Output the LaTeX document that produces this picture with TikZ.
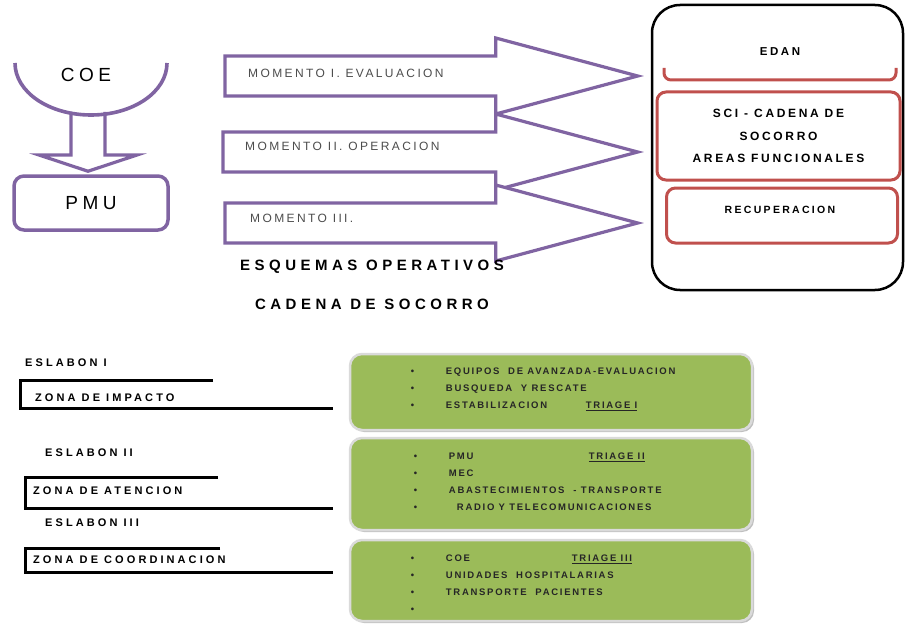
\documentclass[tikz,border=0pt]{standalone}
\usepackage{fontspec}
\setmainfont{Liberation Sans}
\newfontfamily\coefont[LetterSpace=24]{Liberation Sans}
\newfontfamily\momfont[LetterSpace=20]{Liberation Sans}
\newfontfamily\panelfont[LetterSpace=22]{Liberation Sans}
\newfontfamily\zonafont[LetterSpace=28]{Liberation Sans}
\newfontfamily\listfont[LetterSpace=18]{Liberation Sans}
\newfontfamily\titlefont[LetterSpace=30]{Liberation Sans}
\usepackage{tikz}
\usetikzlibrary{positioning,calc,shadows}
\definecolor{socpurple}{RGB}{128,100,162}
\definecolor{socred}{RGB}{192,80,77}
\definecolor{socgreen}{RGB}{155,187,89}
\definecolor{socgray}{RGB}{218,218,218}
\tikzset{
  purplebox/.style={
    rectangle, rounded corners=10pt, draw=socpurple, line width=3.5pt,
    fill=white, minimum width=154pt, minimum height=54pt, inner sep=0pt,
    font=\coefont\fontsize{19}{22}\selectfont
  },
  purpleline/.style={draw=socpurple, line width=3.2pt, fill=white, line join=miter},
  panelbox/.style={
    rectangle, rounded corners=28pt, draw=black, line width=2.5pt,
    minimum width=251pt, minimum height=285pt
  },
  redbox/.style={
    rectangle, rounded corners=9pt, draw=socred, line width=3pt,
    align=center, inner sep=0pt
  },
  greenbox/.style={
    rectangle, rounded corners=12pt, draw=socgray, line width=2.5pt,
    fill=socgreen, minimum width=402pt,
    drop shadow={shadow xshift=2pt, shadow yshift=-2pt, fill=black!50, opacity=.5}
  },
  zonaline/.style={draw=black, line width=3pt},
  coetext/.style={font=\coefont\fontsize{19}{22}\selectfont, inner sep=0pt},
  momlabel/.style={font=\momfont\fontsize{12}{13}\selectfont, text=black!70, anchor=west, inner sep=0pt},
  paneltext/.style={font=\panelfont\bfseries\fontsize{11.5}{22.5}\selectfont, align=center, inner sep=0pt},
  zonatext/.style={font=\zonafont\bfseries\fontsize{11}{12}\selectfont, anchor=west, inner sep=0pt},
  listtext/.style={font=\listfont\bfseries\fontsize{9.5}{17}\selectfont, text=black!85, align=left, anchor=west, inner sep=0pt},
  titletext/.style={font=\titlefont\bfseries\fontsize{15}{17}\selectfont, inner sep=0pt},
}
% hollow block arrow from a tail point to the tip column
\newcommand{\momarrow}[1]{%
  \coordinate (#1tip) at (#1 -| tipx);
  \draw[purpleline] ($(#1)+(0,-20)$) -- ($(#1tip)+(-142,-20)$) -- ($(#1tip)+(-142,-38)$)
    -- (#1tip) -- ($(#1tip)+(-142,38)$) -- ($(#1tip)+(-142,20)$) -- ($(#1)+(0,20)$) -- cycle;}

\begin{document}
\begin{tikzpicture}[x=1pt, y=-1pt]
  \useasboundingbox (0,0) rectangle (906,626);

  % COE bowl and PMU
  \node[coetext] (coe) at (86,75) {COE};
  \coordinate (coebottom) at ($(coe)+(5,40)$);
  \node[purplebox] (pmu) at (91,203) {PMU};
  \draw[purpleline] ($(coebottom)+(-20,-3)$) -- ($(coebottom)+(-20,40)$) -- ($(coebottom)+(-52,40)$)
    -- ($(pmu.north)+(-3,-3)$) -- ($(coebottom)+(46,40)$) -- ($(coebottom)+(14,40)$) -- ($(coebottom)+(14,-3)$);
  \draw[purpleline, fill=none, line width=3.6pt] (15,63) .. controls (15,92) and (49,115) .. (coebottom)
    .. controls (133,115) and (167,92) .. (167,63);

  % right panel
  \node[panelbox] (panel) at (777.5,147.5) {};
  \node[paneltext] (edan) at (780,52) {EDAN};
  \draw[socred, line width=3pt, rounded corners=7pt] (664,68) -- (664,80) -- (896,80) -- (896,68);
  \node[redbox, paneltext, font=\panelfont\bfseries\fontsize{12}{22.5}\selectfont,
    minimum width=243pt, minimum height=88pt] (sci) at (778.5,136)
    {SCI - CADENA DE\\SOCORRO\\AREAS FUNCIONALES};
  \node[redbox, minimum width=231pt, minimum height=55pt] (recup) at (782,215.5) {};
  \node[paneltext, font=\panelfont\bfseries\fontsize{10.5}{12}\selectfont] (recuptext)
    at ($(recup)+(-2,-6)$) {RECUPERACION};

  % momento arrows
  \coordinate (tipx) at ($(panel.west)+(-13,0)$);
  \coordinate (m1) at (225,76);
  \coordinate (m2) at (223,152);
  \coordinate (m3) at (225,223);
  \momarrow{m1}
  \momarrow{m2}
  \momarrow{m3}
  \node[momlabel] (mom1) at ($(m1)+(23,-3)$) {MOMENTO I. EVALUACION};
  \node[momlabel] (mom2) at ($(m2)+(22,-6)$) {MOMENTO II. OPERACION};
  \node[momlabel] (mom3) at ($(m3)+(25,-5)$) {MOMENTO III.};

  \node[titletext] (esquemas) at (372,267) {ESQUEMAS OPERATIVOS};
  \node[titletext, below=25pt of esquemas] (cadena) {CADENA DE SOCORRO};

  % eslabones
  \node[zonatext] (esl1) at (25,363) {ESLABON I};
  \draw[zonaline] (213,380) -- (20,380) -- (20,408) -- (333,408);
  \node[zonatext] (zona1) at (35,398) {ZONA DE IMPACTO};
  \node[zonatext] (esl2) at (45,453) {ESLABON II};
  \draw[zonaline] (218,477) -- (25,477) -- (25,508) -- (333,508);
  \node[zonatext] (zona2) at (33,491) {ZONA DE ATENCION};
  \node[zonatext] (esl3) at (45,523) {ESLABON III};
  \draw[zonaline] (220,548) -- (25,548) -- (25,572) -- (333,572);
  \node[zonatext] (zona3) at (33,560) {ZONA DE COORDINACION};

  % green boxes
  \node[greenbox, minimum height=76pt] (impacto) at (551,392) {};
  \node[greenbox, minimum height=92pt] (atencion) at (551,484) {};
  \node[greenbox, minimum height=81pt] (coordina) at (551,580.5) {};

  \node[listtext] (list1) at ($(impacto.west)+(62,-3)$) {%
    \makebox[35pt][l]{\textbullet}EQUIPOS~ DE AVANZADA-EVALUACION\\
    \makebox[35pt][l]{\textbullet}BUSQUEDA~ Y RESCATE\\
    \makebox[35pt][l]{\textbullet}\makebox[140pt][l]{ESTABILIZACION}\underline{TRIAGE I}};
  \node[listtext] (list2) at ($(atencion.west)+(65,-2)$) {%
    \makebox[35pt][l]{\textbullet}\makebox[140pt][l]{PMU}\underline{TRIAGE II}\\
    \makebox[35pt][l]{\textbullet}MEC\\
    \makebox[35pt][l]{\textbullet}ABASTECIMIENTOS~ - TRANSPORTE\\
    \makebox[43pt][l]{\textbullet}RADIO Y TELECOMUNICACIONES};
  \node[listtext] (list3) at ($(coordina.west)+(62,3)$) {%
    \makebox[35pt][l]{\textbullet}\makebox[126pt][l]{COE}\underline{TRIAGE III}\\
    \makebox[35pt][l]{\textbullet}UNIDADES~ HOSPITALARIAS\\
    \makebox[35pt][l]{\textbullet}TRANSPORTE~ PACIENTES\\
    \makebox[35pt][l]{\textbullet}};
\end{tikzpicture}
\end{document}
